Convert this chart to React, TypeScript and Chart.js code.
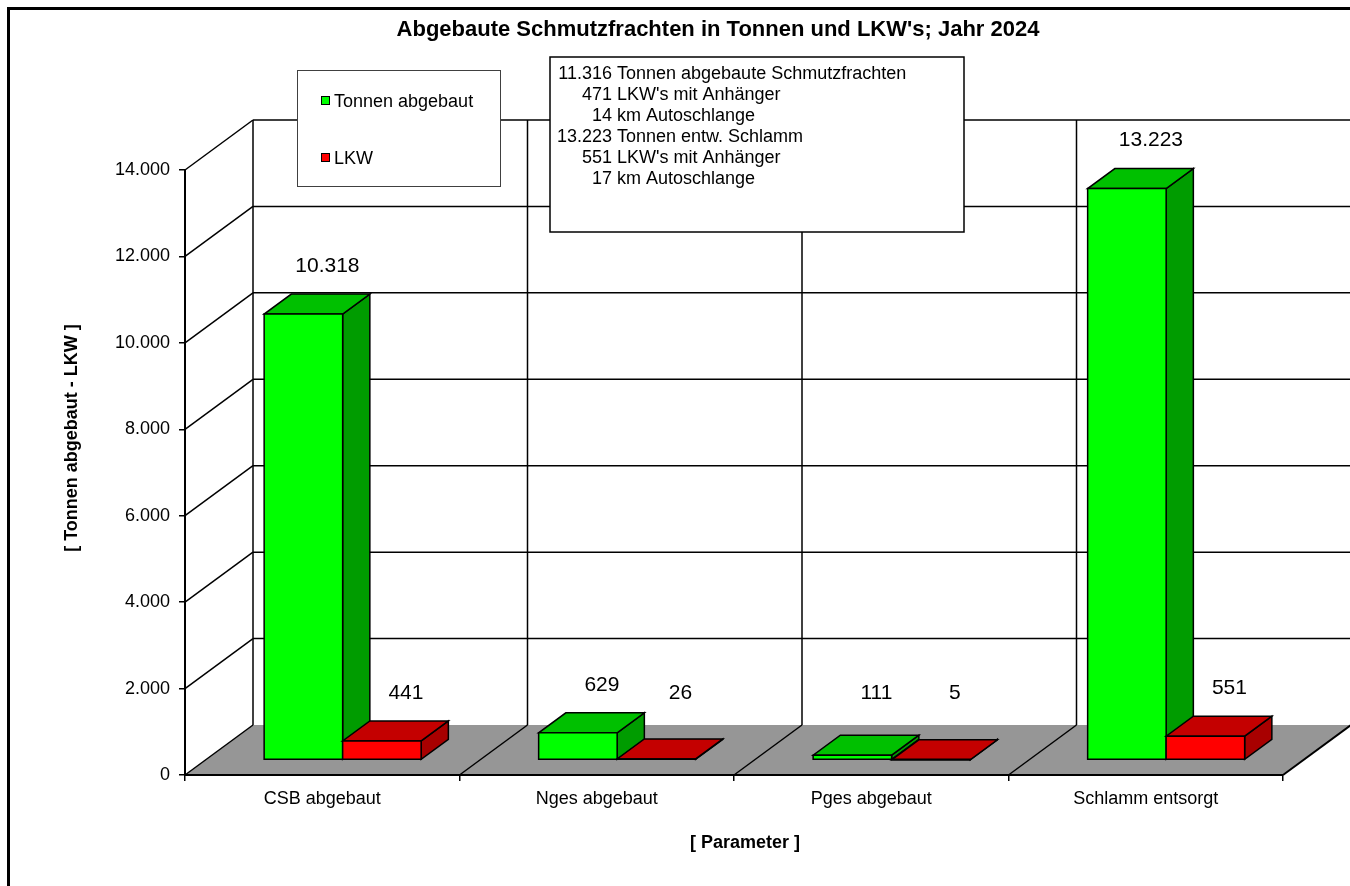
import React, { useEffect, useRef } from "react";
import { Chart, registerables } from "chart.js";

Chart.register(...registerables);

// ---------- data ----------
const categories = ["CSB abgebaut", "Nges abgebaut", "Pges abgebaut", "Schlamm entsorgt"];
const tonnenValues = [10318, 629, 111, 13223];
const lkwValues = [441, 26, 5, 551];
const seriesNames = ["Tonnen abgebaut", "LKW"];
const yMin = 0;
const yMax = 14000;
const yStep = 2000;
const chartTitle = "Abgebaute Schmutzfrachten in Tonnen und LKW's; Jahr 2024";
const yAxisTitle = "[ Tonnen abgebaut - LKW ]";
const xAxisTitle = "[ Parameter ]";
const infoNumbers = ["11.316", "471", "14", "13.223", "551", "17"];
const infoTexts = [
  "Tonnen abgebaute Schmutzfrachten",
  "LKW's mit Anhänger",
  "km Autoschlange",
  "Tonnen entw. Schlamm",
  "LKW's mit Anhänger",
  "km Autoschlange",
];

// ---------- styles ----------
const FONT = "'Liberation Sans', Arial, Helvetica, sans-serif";
const FACE_COLORS = [
  { front: "#00FF00", top: "#00C000", side: "#009C00" },
  { front: "#FF0000", top: "#C40000", side: "#A80000" },
];
const FLOOR = "#969696";
const DX = 68;
const DY = -50;
const Z1 = 0.3;
const Z2 = 0.7;

const fmt = (n: number) => String(Math.round(n)).replace(/\B(?=(\d{3})+(?!\d))/g, ".");

function line(ctx: CanvasRenderingContext2D, x1: number, y1: number, x2: number, y2: number) {
  ctx.beginPath();
  ctx.moveTo(x1, y1);
  ctx.lineTo(x2, y2);
  ctx.stroke();
}

function poly(ctx: CanvasRenderingContext2D, pts: number[][], fill: string) {
  ctx.beginPath();
  ctx.moveTo(pts[0][0], pts[0][1]);
  for (let i = 1; i < pts.length; i++) ctx.lineTo(pts[i][0], pts[i][1]);
  ctx.closePath();
  ctx.fillStyle = fill;
  ctx.fill();
  ctx.stroke();
}

const threeDPlugin = {
  id: "threeD",
  beforeDatasetsDraw(chart: any) {
    const { ctx, chartArea: ca, scales } = chart;
    const xs = scales.x;
    const ys = scales.y;
    const n = categories.length;
    const half = (xs.getPixelForValue(1) - xs.getPixelForValue(0)) / 2;
    const bounds: number[] = [];
    for (let i = 0; i <= n; i++) {
      bounds.push(i < n ? xs.getPixelForValue(i) - half : xs.getPixelForValue(n - 1) + half);
    }
    const y0 = ys.getPixelForValue(0);
    ctx.save();
    // floor
    ctx.beginPath();
    ctx.moveTo(ca.left, y0);
    ctx.lineTo(ca.right, y0);
    ctx.lineTo(ca.right + DX, y0 + DY);
    ctx.lineTo(ca.left + DX, y0 + DY);
    ctx.closePath();
    ctx.fillStyle = FLOOR;
    ctx.fill();

    ctx.strokeStyle = "#000";
    ctx.lineWidth = 1.5;
    // walls gridlines
    ys.ticks.forEach((t: any) => {
      const py = ys.getPixelForValue(t.value);
      if (t.value > 0) line(ctx, ca.left + DX, py + DY, ca.right + DX, py + DY);
      line(ctx, ca.left, py, ca.left + DX, py + DY);
    });
    // back verticals and floor separators
    bounds.forEach((b, i) => {
      if (i < n) line(ctx, b + DX, ca.top + DY, b + DX, y0 + DY);
      if (i > 0 && i < n) line(ctx, b, y0, b + DX, y0 + DY);
    });
    ctx.strokeStyle = "#A0A0A0";
    line(ctx, bounds[n] + DX, ca.top + DY, bounds[n] + DX, y0 + DY);
    ctx.strokeStyle = "#000";
    ctx.lineWidth = 2;
    line(ctx, ca.right, y0, ca.right + DX, y0 + DY);
    line(ctx, ca.left, y0, ca.right, y0);
    ctx.restore();
  },
  afterDatasetsDraw(chart: any) {
    const { ctx } = chart;
    const n = categories.length;
    const ys = chart.scales.y;
    const backFloor = ys.getPixelForValue(0) + DY;
    const labels: { x: number; y: number; t: string }[] = [];
    ctx.save();
    ctx.strokeStyle = "#000";
    ctx.lineWidth = 1.5;
    ctx.lineJoin = "miter";
    const fx = Z1 * DX, fy = Z1 * DY, bx = Z2 * DX, by = Z2 * DY;
    for (let j = 0; j < n; j++) {
      for (let d = 0; d < 2; d++) {
        const meta = chart.getDatasetMeta(d);
        const el = meta.data[j];
        const cx = el.x, top = el.y, base = el.base, w = el.width;
        const l = cx - w / 2, r = cx + w / 2;
        const c = FACE_COLORS[d];
        poly(ctx, [[r + fx, top + fy], [r + bx, top + by], [r + bx, base + by], [r + fx, base + fy]], c.side);
        poly(ctx, [[l + fx, top + fy], [r + fx, top + fy], [r + bx, top + by], [l + bx, top + by]], c.top);
        poly(ctx, [[l + fx, top + fy], [r + fx, top + fy], [r + fx, base + fy], [l + fx, base + fy]], c.front);
        const val = chart.data.datasets[d].data[j];
        labels.push({ x: cx + fx + 24, y: Math.min(top + by - 28, backFloor - 32), t: fmt(val) });
      }
    }
    ctx.fillStyle = "#000";
    ctx.font = `21px ${FONT}`;
    ctx.textAlign = "center";
    ctx.textBaseline = "middle";
    labels.forEach((lb) => ctx.fillText(lb.t, lb.x, lb.y));
    ctx.restore();
  },
  afterDraw(chart: any) {
    const { ctx } = chart;
    ctx.save();
    // outer frame
    ctx.strokeStyle = "#000";
    ctx.lineWidth = 3;
    ctx.strokeRect(8.5, 8.5, 1500, 1000);
    // title
    ctx.fillStyle = "#000";
    ctx.font = `bold 22px ${FONT}`;
    ctx.textAlign = "center";
    ctx.textBaseline = "middle";
    ctx.fillText(chartTitle, 718, 30);

    // axis titles
    ctx.font = `bold 18px ${FONT}`;
    ctx.fillText(xAxisTitle, 745, 843);
    ctx.save();
    ctx.translate(72, 438);
    ctx.rotate(-Math.PI / 2);
    ctx.fillText(yAxisTitle, 0, 0);
    ctx.restore();

    // legend box
    ctx.fillStyle = "#fff";
    ctx.fillRect(297.5, 70.5, 203, 116);
    ctx.strokeStyle = "#404040";
    ctx.lineWidth = 1;
    ctx.strokeRect(297.5, 70.5, 203, 116);
    const legY = [101, 158];
    ctx.font = `18px ${FONT}`;
    ctx.textAlign = "left";
    seriesNames.forEach((s, i) => {
      ctx.fillStyle = FACE_COLORS[i].front;
      ctx.fillRect(321.5, legY[i] - 4.5, 8, 8);
      ctx.strokeStyle = "#000";
      ctx.strokeRect(321.5, legY[i] - 4.5, 8, 8);
      ctx.fillStyle = "#000";
      ctx.fillText(s, 334, legY[i] + 1);
    });

    // info box
    ctx.fillStyle = "#fff";
    ctx.fillRect(550, 57, 414, 175);
    ctx.strokeStyle = "#000";
    ctx.lineWidth = 1.5;
    ctx.strokeRect(550, 57, 414, 175);
    ctx.fillStyle = "#000";
    ctx.font = `18px ${FONT}`;
    infoNumbers.forEach((num, i) => {
      const yy = 74 + i * 21;
      ctx.textAlign = "right";
      ctx.fillText(num, 612, yy);
      ctx.textAlign = "left";
      ctx.fillText(infoTexts[i], 617, yy);
    });
    ctx.restore();
  },
};

export default function App() {
  const ref = useRef<HTMLCanvasElement | null>(null);
  useEffect(() => {
    if (!ref.current) return;
    Chart.defaults.font.family = FONT;
    const chart = new Chart(ref.current, {
      type: "bar",
      data: {
        labels: categories,
        datasets: [
          { label: seriesNames[0], data: tonnenValues, backgroundColor: "rgba(0,0,0,0)", borderWidth: 0 },
          { label: seriesNames[1], data: lkwValues, backgroundColor: "rgba(0,0,0,0)", borderWidth: 0 },
        ],
      },
      options: {
        animation: false,
        responsive: false,
        devicePixelRatio: 1,
        events: [],
        categoryPercentage: 0.572,
        barPercentage: 1,
        layout: { padding: { top: 170, right: 67, left: 0, bottom: 0 } },
        plugins: { legend: { display: false }, tooltip: { enabled: false }, title: { display: false } },
        scales: {
          x: {
            type: "category",
            offset: true,
            grid: { display: true, drawOnChartArea: false, drawTicks: true, tickLength: 6, color: "#000", lineWidth: 1.5, offset: true },
            border: { display: true, color: "#000", width: 2 },
            ticks: { font: { family: FONT, size: 18 }, color: "#000", padding: 7, maxRotation: 0, autoSkip: false },
            title: { display: false },
            afterFit: (s: any) => { s.height = 111; },
          },
          y: {
            min: yMin,
            max: yMax,
            ticks: { stepSize: yStep, callback: (v: any) => fmt(Number(v)), font: { family: FONT, size: 18 }, color: "#000", padding: 9 },
            grid: { display: true, drawOnChartArea: false, drawTicks: true, tickLength: 6, color: "#000", lineWidth: 1.5 },
            border: { display: true, color: "#000", width: 2 },
            title: { display: false },
            afterFit: (s: any) => { s.width = 185; },
          },
        },
      } as any,
      plugins: [threeDPlugin],
    });
    return () => chart.destroy();
  }, []);
  return (
    <div style={{ position: "absolute", left: 0, top: 0, width: 1350, height: 886, background: "#fff" }}>
      <canvas ref={ref} width={1350} height={886} style={{ display: "block" }} />
    </div>
  );
}
